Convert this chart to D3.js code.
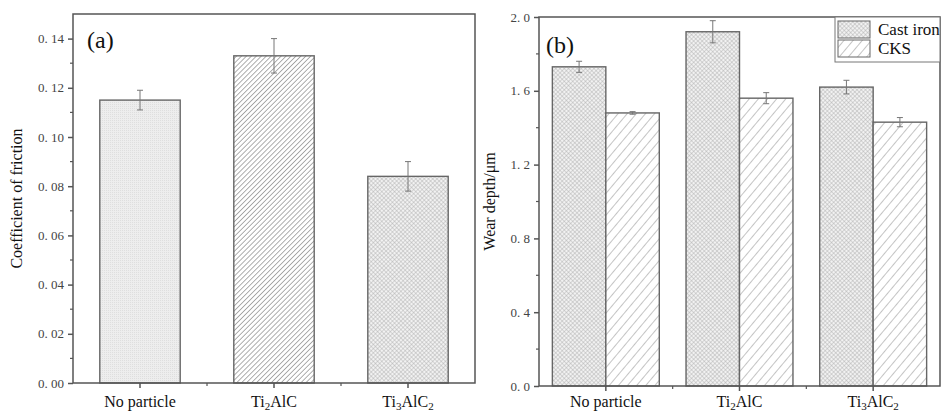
<!DOCTYPE html>
<html>
<head>
<meta charset="utf-8">
<script src="https://cdn.jsdelivr.net/npm/d3@7"></script>
<style>
  body { margin: 0; background: #fff; }
  svg { display: block; }
  .frame { fill: none; stroke: #555; stroke-width: 1.5; }
  .bar { stroke: #666; stroke-width: 1.4; }
  .err { stroke: #777; stroke-width: 1; fill: none; }
</style>
</head>
<body>
<svg width="941" height="413"></svg>
<script>
const SERIF = "'Liberation Serif', 'DejaVu Serif', serif";

// categories (subscript parts marked as [text, isSub])
const categories = ["No particle", "Ti2AlC", "Ti3AlC2"];
const categoryParts = [
  [["No particle", false]],
  [["Ti", false], ["2", true], ["AlC", false]],
  [["Ti", false], ["3", true], ["AlC", false], ["2", true]]
];

// panel (a): coefficient of friction
const frictionValues = [0.115, 0.133, 0.084];
const frictionErrors = [0.004, 0.007, 0.006];
const frictionTicks = [0, 0.02, 0.04, 0.06, 0.08, 0.10, 0.12, 0.14];

// panel (b): wear depth
const series = ["Cast iron", "CKS"];
const castIron = [1.73, 1.92, 1.62];
const castIronErr = [0.03, 0.06, 0.037];
const cks = [1.48, 1.56, 1.43];
const cksErr = [0.007, 0.03, 0.025];
const wearTicks = [0, 0.4, 0.8, 1.2, 1.6, 2.0];

const svg = d3.select("svg").attr("font-family", SERIF);
const defs = svg.append("defs");

// fill patterns
const dots = defs.append("pattern").attr("id", "dots")
  .attr("patternUnits", "userSpaceOnUse").attr("width", 2).attr("height", 2);
dots.append("rect").attr("width", 2).attr("height", 2).attr("fill", "#ededed");
dots.append("rect").attr("width", 1).attr("height", 1).attr("fill", "#dedede");

const fine = defs.append("pattern").attr("id", "fineHatch")
  .attr("patternUnits", "userSpaceOnUse").attr("width", 3.5).attr("height", 3.5)
  .attr("patternTransform", "rotate(45)");
fine.append("rect").attr("width", 3.5).attr("height", 3.5).attr("fill", "#fff");
fine.append("line").attr("x1", 0).attr("y1", 0).attr("x2", 0).attr("y2", 3.5)
  .attr("stroke", "#9a9a9a").attr("stroke-width", 1.6);

const cross = defs.append("pattern").attr("id", "cross")
  .attr("patternUnits", "userSpaceOnUse").attr("width", 3).attr("height", 3)
  .attr("patternTransform", "rotate(45)");
cross.append("rect").attr("width", 3).attr("height", 3).attr("fill", "#f2f2f2");
cross.append("line").attr("x1", 0).attr("y1", 0).attr("x2", 0).attr("y2", 3)
  .attr("stroke", "#a6a6a6").attr("stroke-width", 0.8);
cross.append("line").attr("x1", 0).attr("y1", 0).attr("x2", 3).attr("y2", 0)
  .attr("stroke", "#a6a6a6").attr("stroke-width", 0.8);

const wide = defs.append("pattern").attr("id", "wideHatch")
  .attr("patternUnits", "userSpaceOnUse").attr("width", 7).attr("height", 7)
  .attr("patternTransform", "rotate(40)");
wide.append("rect").attr("width", 7).attr("height", 7).attr("fill", "#fff");
wide.append("line").attr("x1", 0).attr("y1", 0).attr("x2", 0).attr("y2", 7)
  .attr("stroke", "#8a8a8a").attr("stroke-width", 1);

const fmt = (d, digits) => d.toFixed(digits).replace(".", ". ");

const drawFrame = (g, x0, x1, y0, y1) => {
  g.append("rect").attr("class", "frame")
    .attr("x", x0).attr("y", y1).attr("width", x1 - x0).attr("height", y0 - y1);
};

const drawCategoryAxis = (g, xBand, y0, baseline) => {
  const step = xBand.step();
  const center = d => xBand(d) + xBand.bandwidth() / 2;
  // major ticks at centers
  g.selectAll(null).data(categories).enter().append("line")
    .attr("x1", center).attr("x2", center)
    .attr("y1", y0).attr("y2", y0 + 5)
    .attr("stroke", "#555").attr("stroke-width", 1.5);
  // minor ticks between categories
  g.selectAll(null).data(categories.slice(1)).enter().append("line")
    .attr("x1", d => center(d) - step / 2)
    .attr("x2", d => center(d) - step / 2)
    .attr("y1", y0).attr("y2", y0 + 3)
    .attr("stroke", "#555").attr("stroke-width", 1.2);
  const labels = g.selectAll(null).data(categoryParts).enter().append("text")
    .attr("x", (d, i) => center(categories[i]))
    .attr("y", baseline)
    .attr("font-size", 16)
    .attr("fill", "#111")
    .attr("text-anchor", "middle");
  labels.each(function (parts) {
    const t = d3.select(this);
    let prevSub = false;
    parts.forEach(([s, sub]) => {
      t.append("tspan").text(s)
        .attr("font-size", sub ? 11 : 16)
        .attr("dy", sub ? 3 : (prevSub ? -3 : 0));
      prevSub = sub;
    });
  });
};

const drawYAxis = (g, y, x0, ticks, minorStep, digits) => {
  const axis = d3.axisLeft(y).tickValues(ticks).tickSize(5).tickPadding(4)
    .tickFormat(d => fmt(d, digits));
  const ag = g.append("g").attr("transform", `translate(${x0},0)`).call(axis)
    .attr("font-family", SERIF).attr("font-size", 13);
  ag.select(".domain").remove();
  ag.selectAll(".tick line").attr("stroke", "#555").attr("stroke-width", 1.5);
  ag.selectAll(".tick text").attr("fill", "#444");
  const dom = y.domain();
  const minor = d3.range(dom[0] + minorStep, dom[1], minorStep * 2);
  g.selectAll(null).data(minor).enter().append("line")
    .attr("x1", x0 - 3).attr("x2", x0)
    .attr("y1", d => y(d)).attr("y2", d => y(d))
    .attr("stroke", "#555").attr("stroke-width", 1.2);
};

const drawError = (g, cx, yTop, yBot, cap) => {
  g.append("line").attr("class", "err").attr("x1", cx).attr("x2", cx).attr("y1", yTop).attr("y2", yBot);
  g.append("line").attr("class", "err").attr("x1", cx - cap).attr("x2", cx + cap).attr("y1", yTop).attr("y2", yTop);
  g.append("line").attr("class", "err").attr("x1", cx - cap).attr("x2", cx + cap).attr("y1", yBot).attr("y2", yBot);
};

// ---------- panel (a) ----------
const A = { x0: 73, x1: 475, y0: 383, y1: 14 };
const ga = svg.append("g");
const xa = d3.scaleBand().domain(categories).range([A.x0, A.x1])
  .paddingInner(0.4).paddingOuter(0.2);
const ya = d3.scaleLinear().domain([0, 0.15]).range([A.y0, A.y1]);
const fillsA = ["url(#dots)", "url(#fineHatch)", "url(#cross)"];

ga.selectAll(".bar").data(frictionValues).enter().append("rect")
  .attr("class", "bar")
  .attr("x", (d, i) => xa(categories[i]))
  .attr("y", d => ya(d))
  .attr("width", xa.bandwidth())
  .attr("height", d => ya(0) - ya(d))
  .attr("fill", (d, i) => fillsA[i]);
frictionValues.forEach((v, i) => {
  const cx = xa(categories[i]) + xa.bandwidth() / 2;
  drawError(ga, cx, ya(v + frictionErrors[i]), ya(v - frictionErrors[i]), 3);
});
drawFrame(ga, A.x0, A.x1, A.y0, A.y1);
drawYAxis(ga, ya, A.x0, frictionTicks, 0.01, 2);
drawCategoryAxis(ga, xa, A.y0, 407);
ga.append("text")
  .attr("transform", `translate(22,${(A.y0 + A.y1) / 2}) rotate(-90)`)
  .attr("font-size", 16).attr("fill", "#111")
  .attr("text-anchor", "middle").text("Coefficient of friction");
ga.append("text").attr("x", 87).attr("y", 48)
  .attr("font-size", 24).attr("fill", "#111").text("(a)");

// ---------- panel (b) ----------
const B = { x0: 539, x1: 940, y0: 386, y1: 17 };
const gb = svg.append("g");
const xb = d3.scaleBand().domain(categories).range([B.x0, B.x1])
  .paddingInner(0.2).paddingOuter(0.1);
const xs = d3.scaleBand().domain(series).range([0, xb.bandwidth()]);
const yb = d3.scaleLinear().domain([0, 2.0]).range([B.y0, B.y1]);
const wearData = [
  { name: "Cast iron", values: castIron, errs: castIronErr, fill: "url(#cross)" },
  { name: "CKS", values: cks, errs: cksErr, fill: "url(#wideHatch)" }
];

wearData.forEach(s => {
  gb.append("g").selectAll("rect").data(s.values).enter().append("rect")
    .attr("class", "bar")
    .attr("x", (d, i) => xb(categories[i]) + xs(s.name))
    .attr("y", d => yb(d))
    .attr("width", xs.bandwidth())
    .attr("height", d => yb(0) - yb(d))
    .attr("fill", s.fill);
});
wearData.forEach(s => {
  s.values.forEach((v, i) => {
    const cx = xb(categories[i]) + xs(s.name) + xs.bandwidth() / 2;
    drawError(gb, cx, yb(v + s.errs[i]), yb(v - s.errs[i]), 3);
  });
});
drawFrame(gb, B.x0, B.x1, B.y0, B.y1);
drawYAxis(gb, yb, B.x0, wearTicks, 0.2, 1);
drawCategoryAxis(gb, xb, B.y0, 407);
gb.append("text")
  .attr("transform", `translate(495,${(B.y0 + B.y1) / 2}) rotate(-90)`)
  .attr("font-size", 16).attr("fill", "#111")
  .attr("text-anchor", "middle").text("Wear depth/\u03bcm");
gb.append("text").attr("x", 546).attr("y", 53)
  .attr("font-size", 24).attr("fill", "#111").text("(b)");

// legend
const leg = gb.append("g");
leg.append("rect").attr("x", 835).attr("y", B.y1).attr("width", B.x1 - 835).attr("height", 62 - B.y1)
  .attr("fill", "#fff").attr("stroke", "#777").attr("stroke-width", 1);
wearData.forEach((s, i) => {
  leg.append("rect").attr("x", 838).attr("y", 21 + i * 19).attr("width", 32).attr("height", 17)
    .attr("fill", s.fill).attr("stroke", "#666").attr("stroke-width", 1);
  leg.append("text").attr("x", 878).attr("y", 35 + i * 19)
    .attr("font-size", 17).attr("fill", "#111").text(s.name);
});
</script>
</body>
</html>
